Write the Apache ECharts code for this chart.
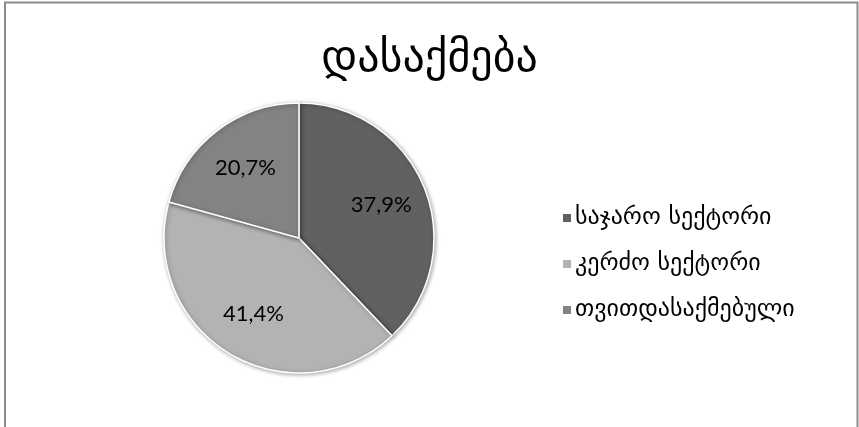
<!DOCTYPE html>
<html>
<head>
<meta charset="utf-8">
<script src="https://cdn.jsdelivr.net/npm/echarts@6/dist/echarts.min.js"></script>
<style>
html,body{margin:0;padding:0;background:#fff;}
#main{width:859px;height:427px;}
</style>
</head>
<body>
<div id="main"></div>
<script>
const titleText = 'დასაქმება';
const categories = ['საჯარო სექტორი', 'კერძო სექტორი', 'თვითდასაქმებული'];
const values = [37.9, 41.4, 20.7];
const labels = ['37,9%', '41,4%', '20,7%'];
const colors = ['#616161', '#b3b3b3', '#838383'];

const chart = echarts.init(document.getElementById('main'));
const geoFont = '"DejaVu Sans", sans-serif';
const mainData = categories.map((c, i) => ({ name: c, value: values[i], itemStyle: { color: colors[i] } }));
const labelData = categories.map((c, i) => ({ name: c, value: values[i], label: { formatter: labels[i] } }));

chart.setOption({
  animation: false,
  title: {
    text: titleText,
    left: 'center',
    top: 33,
    textStyle: { fontFamily: geoFont, fontSize: 44, fontWeight: 'normal', color: '#000' }
  },
  legend: {
    orient: 'vertical',
    left: 556,
    top: 200,
    itemWidth: 10,
    itemHeight: 10,
    itemGap: 20,
    icon: 'rect',
    data: categories,
    textStyle: { fontFamily: geoFont, fontSize: 24, lineHeight: 26, color: '#000', padding: [0, 0, 0, -2] }
  },
  graphic: [{
    type: 'polyline',
    shape: { points: [[5, 427], [5, 2.5], [857.5, 2.5], [857.5, 427]] },
    style: { stroke: '#8c8c8c', lineWidth: 2, fill: null },
    silent: true
  }],
  series: [{
    type: 'pie',
    center: [299, 238],
    radius: [0, 135],
    startAngle: 90,
    clockwise: true,
    label: { show: false },
    labelLine: { show: false },
    itemStyle: { borderColor: '#fff', borderWidth: 1.5, shadowBlur: 4, shadowColor: 'rgba(0,0,0,0.35)', shadowOffsetX: 1, shadowOffsetY: 1 },
    data: mainData
  }, {
    type: 'pie',
    center: [299, 238],
    radius: [36, 135],
    startAngle: 90,
    clockwise: true,
    silent: true,
    itemStyle: { color: 'rgba(0,0,0,0)' },
    label: { show: true, position: 'inside', fontFamily: 'Lato, "Open Sans", sans-serif', fontSize: 22, color: '#000' },
    labelLine: { show: false },
    emphasis: { disabled: true },
    data: labelData
  }]
});
</script>
</body>
</html>
